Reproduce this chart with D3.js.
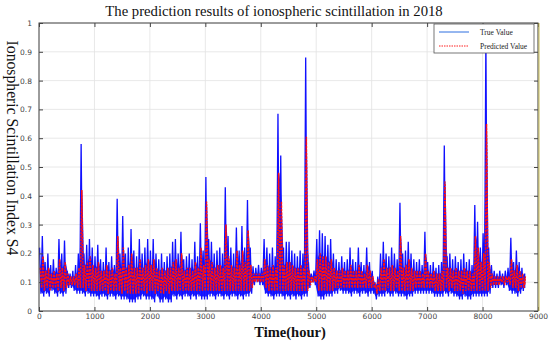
<!DOCTYPE html>
<html>
<head>
<meta charset="utf-8">
<script src="https://cdn.jsdelivr.net/npm/d3@7"></script>
<style>
  body { margin: 0; background: #fff; }
  svg { display: block; }
</style>
</head>
<body>
<svg width="550" height="343"></svg>
<script>
// bins of 50 hours, 0..8760; per bin the envelope (lowest / highest value)
var binHours = 50;

var trueHi = [
  0.22, 0.26, 0.17, 0.20, 0.16, 0.18, 0.15, 0.25, 0.20, 0.245,
  0.14, 0.13, 0.14, 0.16, 0.20, 0.58, 0.20, 0.23, 0.25, 0.22,
  0.19, 0.23, 0.18, 0.17, 0.22, 0.17, 0.19, 0.16, 0.39, 0.20,
  0.33, 0.20, 0.22, 0.285, 0.21, 0.19, 0.25, 0.20, 0.22, 0.25,
  0.21, 0.25, 0.20, 0.18, 0.20, 0.17, 0.19, 0.20, 0.24, 0.25,
  0.20, 0.275, 0.18, 0.19, 0.20, 0.18, 0.24, 0.19, 0.305, 0.21,
  0.465, 0.25, 0.24, 0.20, 0.21, 0.22, 0.20, 0.43, 0.26, 0.22,
  0.20, 0.29, 0.21, 0.295, 0.22, 0.385, 0.22, 0.155, 0.15, 0.16,
  0.15, 0.25, 0.22, 0.20, 0.22, 0.19, 0.685, 0.54, 0.22, 0.24,
  0.24, 0.21, 0.20, 0.19, 0.21, 0.20, 0.88, 0.17, 0.13, 0.14,
  0.25, 0.28, 0.27, 0.26, 0.23, 0.25, 0.20, 0.18, 0.17, 0.19,
  0.17, 0.18, 0.22, 0.18, 0.17, 0.22, 0.17, 0.16, 0.22, 0.17,
  0.14, 0.10, 0.12, 0.20, 0.24, 0.20, 0.19, 0.22, 0.20, 0.18,
  0.376, 0.20, 0.21, 0.24, 0.20, 0.18, 0.17, 0.18, 0.16, 0.275,
  0.17, 0.16, 0.17, 0.15, 0.16, 0.17, 0.575, 0.19, 0.20, 0.18,
  0.19, 0.17, 0.18, 0.20, 0.17, 0.18, 0.16, 0.368, 0.31, 0.22,
  0.27, 0.95, 0.22, 0.16, 0.14, 0.13, 0.14, 0.13, 0.14, 0.15,
  0.254, 0.17, 0.21, 0.17, 0.15, 0.13
];
var trueLo = [
  0.06, 0.05, 0.06, 0.05, 0.07, 0.06, 0.05, 0.06, 0.05, 0.06,
  0.08, 0.08, 0.07, 0.06, 0.06, 0.06, 0.05, 0.06, 0.05, 0.05,
  0.05, 0.04, 0.05, 0.05, 0.04, 0.05, 0.05, 0.04, 0.05, 0.04,
  0.04, 0.04, 0.03, 0.03, 0.03, 0.04, 0.04, 0.05, 0.04, 0.04,
  0.04, 0.03, 0.05, 0.03, 0.03, 0.04, 0.03, 0.03, 0.05, 0.04,
  0.05, 0.04, 0.05, 0.05, 0.04, 0.05, 0.04, 0.05, 0.04, 0.04,
  0.04, 0.05, 0.05, 0.04, 0.05, 0.05, 0.04, 0.05, 0.04, 0.05,
  0.05, 0.04, 0.05, 0.04, 0.05, 0.05, 0.06, 0.09, 0.10, 0.09,
  0.09, 0.06, 0.05, 0.05, 0.04, 0.05, 0.05, 0.05, 0.04, 0.05,
  0.04, 0.05, 0.04, 0.05, 0.04, 0.05, 0.05, 0.08, 0.10, 0.09,
  0.05, 0.04, 0.04, 0.05, 0.05, 0.05, 0.06, 0.06, 0.07, 0.06,
  0.06, 0.06, 0.05, 0.06, 0.06, 0.05, 0.06, 0.06, 0.05, 0.06,
  0.06, 0.04, 0.05, 0.05, 0.05, 0.06, 0.05, 0.05, 0.06, 0.05,
  0.05, 0.05, 0.04, 0.05, 0.05, 0.06, 0.06, 0.06, 0.06, 0.06,
  0.06, 0.06, 0.05, 0.05, 0.05, 0.05, 0.06, 0.05, 0.06, 0.05,
  0.05, 0.04, 0.04, 0.05, 0.04, 0.04, 0.05, 0.05, 0.05, 0.05,
  0.05, 0.05, 0.06, 0.08, 0.08, 0.08, 0.09, 0.08, 0.09, 0.07,
  0.06, 0.06, 0.05, 0.06, 0.07, 0.08
];
var predHi = [
  0.15, 0.19, 0.14, 0.15, 0.13, 0.14, 0.13, 0.18, 0.15, 0.17,
  0.13, 0.12, 0.12, 0.13, 0.15, 0.42, 0.16, 0.17, 0.19, 0.16,
  0.15, 0.17, 0.14, 0.14, 0.16, 0.14, 0.15, 0.13, 0.26, 0.15,
  0.22, 0.15, 0.16, 0.20, 0.15, 0.15, 0.18, 0.15, 0.16, 0.18,
  0.16, 0.18, 0.15, 0.14, 0.15, 0.14, 0.15, 0.15, 0.17, 0.18,
  0.15, 0.20, 0.14, 0.15, 0.15, 0.14, 0.17, 0.15, 0.22, 0.16,
  0.38, 0.18, 0.17, 0.15, 0.16, 0.16, 0.15, 0.30, 0.19, 0.16,
  0.15, 0.21, 0.16, 0.21, 0.17, 0.28, 0.16, 0.13, 0.13, 0.13,
  0.13, 0.18, 0.16, 0.15, 0.16, 0.15, 0.48, 0.38, 0.16, 0.17,
  0.17, 0.16, 0.15, 0.15, 0.16, 0.15, 0.605, 0.14, 0.12, 0.12,
  0.18, 0.20, 0.19, 0.19, 0.17, 0.18, 0.15, 0.14, 0.14, 0.15,
  0.14, 0.14, 0.16, 0.14, 0.14, 0.16, 0.14, 0.13, 0.16, 0.14,
  0.12, 0.09, 0.11, 0.15, 0.18, 0.15, 0.15, 0.16, 0.15, 0.14,
  0.26, 0.15, 0.16, 0.18, 0.15, 0.14, 0.14, 0.14, 0.13, 0.20,
  0.14, 0.13, 0.14, 0.13, 0.13, 0.14, 0.45, 0.15, 0.15, 0.14,
  0.15, 0.14, 0.14, 0.15, 0.14, 0.14, 0.13, 0.26, 0.22, 0.17,
  0.20, 0.65, 0.17, 0.13, 0.12, 0.12, 0.12, 0.12, 0.12, 0.12,
  0.18, 0.14, 0.16, 0.14, 0.13, 0.12
];
var predLo = [
  0.08, 0.07, 0.08, 0.07, 0.08, 0.08, 0.07, 0.08, 0.07, 0.08,
  0.09, 0.09, 0.09, 0.08, 0.08, 0.08, 0.07, 0.08, 0.07, 0.07,
  0.07, 0.07, 0.07, 0.07, 0.06, 0.07, 0.07, 0.07, 0.07, 0.06,
  0.07, 0.06, 0.06, 0.06, 0.06, 0.06, 0.07, 0.07, 0.06, 0.07,
  0.07, 0.06, 0.07, 0.06, 0.06, 0.07, 0.06, 0.07, 0.07, 0.07,
  0.07, 0.07, 0.07, 0.07, 0.07, 0.07, 0.07, 0.07, 0.07, 0.07,
  0.07, 0.07, 0.07, 0.07, 0.07, 0.07, 0.07, 0.07, 0.07, 0.07,
  0.07, 0.07, 0.07, 0.07, 0.07, 0.07, 0.08, 0.10, 0.10, 0.10,
  0.10, 0.08, 0.07, 0.07, 0.07, 0.07, 0.07, 0.07, 0.07, 0.07,
  0.07, 0.07, 0.07, 0.07, 0.07, 0.07, 0.07, 0.09, 0.10, 0.10,
  0.07, 0.07, 0.07, 0.07, 0.07, 0.07, 0.08, 0.08, 0.08, 0.08,
  0.08, 0.08, 0.08, 0.08, 0.08, 0.08, 0.08, 0.08, 0.08, 0.08,
  0.08, 0.06, 0.07, 0.07, 0.07, 0.08, 0.07, 0.07, 0.08, 0.07,
  0.07, 0.07, 0.07, 0.07, 0.07, 0.08, 0.08, 0.08, 0.08, 0.08,
  0.08, 0.08, 0.07, 0.07, 0.07, 0.07, 0.08, 0.07, 0.08, 0.07,
  0.07, 0.07, 0.06, 0.07, 0.07, 0.07, 0.07, 0.07, 0.07, 0.07,
  0.07, 0.07, 0.08, 0.09, 0.09, 0.09, 0.10, 0.09, 0.10, 0.09,
  0.08, 0.08, 0.07, 0.08, 0.08, 0.09
];

var xTicks = [0, 1000, 2000, 3000, 4000, 5000, 6000, 7000, 8000, 9000];
var yTicks = [0, 0.1, 0.2, 0.3, 0.4, 0.5, 0.6, 0.7, 0.8, 0.9, 1];
var seriesNames = ["True Value", "Predicted Value"];

var svg = d3.select("svg"),
    margin = { top: 23, right: 12, bottom: 32, left: 39 },
    width = 550 - margin.left - margin.right,
    height = 343 - margin.top - margin.bottom;

var x = d3.scaleLinear().domain([0, 9000]).range([0, width]);
var y = d3.scaleLinear().domain([0, 1]).range([height, 0]);

var g = svg.append("g").attr("transform", "translate(" + margin.left + "," + margin.top + ")");

// grid
g.append("g")
    .selectAll("line.gx")
    .data(xTicks)
    .enter().append("line")
    .attr("x1", d => x(d)).attr("x2", d => x(d))
    .attr("y1", 0).attr("y2", height)
    .attr("stroke", "#e2e2e2").attr("stroke-width", 0.8);
g.append("g")
    .selectAll("line.gy")
    .data(yTicks)
    .enter().append("line")
    .attr("x1", 0).attr("x2", width)
    .attr("y1", d => y(d)).attr("y2", d => y(d))
    .attr("stroke", "#e2e2e2").attr("stroke-width", 0.8);

// zigzag through each bin's envelope: high then low
function zigzag(hi, lo, off) {
    var pts = [];
    hi.forEach(function (h, i) {
        var t0 = i * binHours;
        pts.push([t0 + off, h]);
        pts.push([Math.min(t0 + off + binHours / 2, 8760), lo[i]]);
    });
    return pts;
}

var line = d3.line()
    .x(d => x(d[0]))
    .y(d => y(d[1]));

// dense core of the true series: from its low envelope up to the predicted high
var core = d3.area()
    .x((d, i) => x(Math.min(i * binHours + 25, 8760)))
    .y0((d, i) => y(trueLo[i] + 0.01))
    .y1((d, i) => y(predHi[i]))
    .curve(d3.curveMonotoneX);

g.append("path")
    .datum(trueLo)
    .attr("fill", "#2020ff")
    .attr("d", core);

g.append("path")
    .datum(zigzag(trueHi, trueLo, 10))
    .attr("fill", "none")
    .attr("stroke", "#1010ff")
    .attr("stroke-width", 1.3)
    .attr("d", line);

g.append("path")
    .datum(zigzag(predHi, predLo, 22))
    .attr("fill", "none")
    .attr("stroke", "#ff1010")
    .attr("stroke-width", 1.5)
    .attr("stroke-dasharray", "2.5,1")
    .attr("d", line);

// axes with inward ticks on all sides
var tickStyle = function (sel) {
    sel.select(".domain").remove();
    sel.selectAll(".tick line").attr("stroke", "#444");
    sel.selectAll(".tick text").attr("fill", "#444")
        .attr("font-family", "DejaVu Sans, sans-serif").attr("font-size", "7.5px");
};

g.append("g")
    .attr("transform", "translate(0," + height + ")")
    .call(d3.axisBottom(x).tickValues(xTicks).tickSize(-4).tickPadding(3).tickFormat(d3.format("d")))
    .call(tickStyle);
g.append("g")
    .call(d3.axisTop(x).tickValues(xTicks).tickSize(-4).tickFormat(""))
    .call(tickStyle);
g.append("g")
    .call(d3.axisLeft(y).tickValues(yTicks).tickSize(-4).tickPadding(7).tickFormat(d => d === 0 ? "0" : (d === 1 ? "1" : d3.format(".1f")(d))))
    .call(tickStyle);
g.append("g")
    .attr("transform", "translate(" + width + ",0)")
    .call(d3.axisRight(y).tickValues(yTicks).tickSize(-4).tickFormat(""))
    .call(tickStyle);

g.append("rect")
    .attr("width", width).attr("height", height)
    .attr("fill", "none").attr("stroke", "#444").attr("stroke-width", 1);
g.append("line")
    .attr("x1", width + 1).attr("x2", width + 1)
    .attr("y1", 0).attr("y2", height)
    .attr("stroke", "#c9bd52").attr("stroke-width", 1);

// legend
var lg = g.append("g").attr("transform", "translate(" + (width - 104) + ",1)");
lg.append("rect")
    .attr("width", 100).attr("height", 29)
    .attr("fill", "#fff").attr("stroke", "#555").attr("stroke-width", 0.8);
lg.selectAll("line.leg")
    .data(seriesNames)
    .enter().append("line")
    .attr("x1", 5).attr("x2", 35)
    .attr("y1", (d, i) => 8 + i * 14).attr("y2", (d, i) => 8 + i * 14)
    .attr("stroke", (d, i) => i === 0 ? "#2d6fe0" : "#ff2020")
    .attr("stroke-width", 1)
    .attr("stroke-dasharray", (d, i) => i === 0 ? null : "1.5,1");
lg.selectAll("text")
    .data(seriesNames)
    .enter().append("text")
    .attr("x", 46).attr("y", (d, i) => 10.5 + i * 14)
    .attr("font-family", "Liberation Serif, serif")
    .attr("font-size", "7.5px")
    .attr("fill", "#222")
    .text(d => d);

// titles
svg.append("text")
    .attr("x", 274).attr("y", 16)
    .attr("text-anchor", "middle")
    .attr("font-family", "Liberation Serif, serif")
    .attr("font-size", "14.7px")
    .attr("fill", "#111")
    .text("The prediction results of ionospheric scintillation in 2018");

svg.append("text")
    .attr("transform", "translate(7,148) rotate(90)")
    .attr("text-anchor", "middle")
    .attr("font-family", "Liberation Serif, serif")
    .attr("font-size", "15.7px")
    .attr("fill", "#111")
    .text("Ionospheric Scintillation Index S4");

svg.append("text")
    .attr("x", 290).attr("y", 337)
    .attr("text-anchor", "middle")
    .attr("font-family", "Liberation Serif, serif")
    .attr("font-weight", "bold")
    .attr("font-size", "14.5px")
    .attr("fill", "#111")
    .text("Time(hour)");
</script>
</body>
</html>
